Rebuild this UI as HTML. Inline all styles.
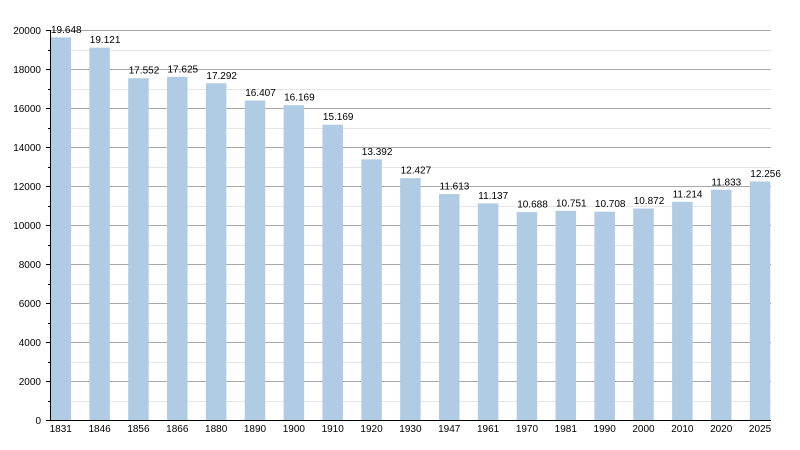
<!DOCTYPE html>
<html><head><meta charset="utf-8"><style>
html,body{margin:0;padding:0;background:#fff;}
svg{display:block;}
text{font-family:"Liberation Sans",Arial,sans-serif;font-size:10px;fill:#000;}
</style></head><body>
<svg width="800" height="450" viewBox="0 0 800 450" xmlns="http://www.w3.org/2000/svg">
<rect width="800" height="450" fill="#fff"/>
<g stroke="#e6e6e6" stroke-width="1">
<line x1="50" x2="771" y1="401.5" y2="401.5"/>
<line x1="50" x2="771" y1="362.5" y2="362.5"/>
<line x1="50" x2="771" y1="323.5" y2="323.5"/>
<line x1="50" x2="771" y1="284.5" y2="284.5"/>
<line x1="50" x2="771" y1="245.5" y2="245.5"/>
<line x1="50" x2="771" y1="206.5" y2="206.5"/>
<line x1="50" x2="771" y1="167.5" y2="167.5"/>
<line x1="50" x2="771" y1="128.5" y2="128.5"/>
<line x1="50" x2="771" y1="89.5" y2="89.5"/>
<line x1="50" x2="771" y1="50.5" y2="50.5"/>
</g>
<g stroke="#a8a8a8" stroke-width="1">
<line x1="50" x2="771" y1="381.5" y2="381.5"/>
<line x1="50" x2="771" y1="342.5" y2="342.5"/>
<line x1="50" x2="771" y1="303.5" y2="303.5"/>
<line x1="50" x2="771" y1="264.5" y2="264.5"/>
<line x1="50" x2="771" y1="225.5" y2="225.5"/>
<line x1="50" x2="771" y1="186.5" y2="186.5"/>
<line x1="50" x2="771" y1="147.5" y2="147.5"/>
<line x1="50" x2="771" y1="108.5" y2="108.5"/>
<line x1="50" x2="771" y1="69.5" y2="69.5"/>
<line x1="50" x2="771" y1="30.5" y2="30.5"/>
</g>
<g fill="#b0cbe4">
<rect x="50.5" y="37.36" width="20.5" height="383.14"/>
<rect x="89.35" y="47.64" width="20.5" height="372.86"/>
<rect x="128.2" y="78.24" width="20.5" height="342.26"/>
<rect x="167.05" y="76.81" width="20.5" height="343.69"/>
<rect x="205.9" y="83.31" width="20.5" height="337.19"/>
<rect x="244.75" y="100.56" width="20.5" height="319.94"/>
<rect x="283.6" y="105.2" width="20.5" height="315.3"/>
<rect x="322.45" y="124.7" width="20.5" height="295.8"/>
<rect x="361.3" y="159.36" width="20.5" height="261.14"/>
<rect x="400.15" y="178.17" width="20.5" height="242.33"/>
<rect x="439" y="194.05" width="20.5" height="226.45"/>
<rect x="477.85" y="203.33" width="20.5" height="217.17"/>
<rect x="516.7" y="212.08" width="20.5" height="208.42"/>
<rect x="555.55" y="210.86" width="20.5" height="209.64"/>
<rect x="594.4" y="211.69" width="20.5" height="208.81"/>
<rect x="633.25" y="208.5" width="20.5" height="212"/>
<rect x="672.1" y="201.83" width="20.5" height="218.67"/>
<rect x="710.95" y="189.76" width="20.5" height="230.74"/>
<rect x="749.8" y="181.51" width="20.5" height="238.99"/>
</g>
<g>
<text x="51" y="32.9">19.648</text>
<text x="89.8" y="43.1">19.121</text>
<text x="128.7" y="73.7">17.552</text>
<text x="167.5" y="72.3">17.625</text>
<text x="206.4" y="78.8">17.292</text>
<text x="245.2" y="96.1">16.407</text>
<text x="284.1" y="100.7">16.169</text>
<text x="322.9" y="120.2">15.169</text>
<text x="361.8" y="154.9">13.392</text>
<text x="400.6" y="173.7">12.427</text>
<text x="439.5" y="189.6">11.613</text>
<text x="478.3" y="198.8">11.137</text>
<text x="517.2" y="207.6">10.688</text>
<text x="556" y="206.4">10.751</text>
<text x="594.9" y="207.2">10.708</text>
<text x="633.7" y="204">10.872</text>
<text x="672.6" y="197.3">11.214</text>
<text x="711.4" y="185.3">11.833</text>
<text x="750.3" y="177">12.256</text>
</g>
<g stroke="#000" stroke-width="1">
<line x1="50.5" x2="50.5" y1="30" y2="421"/>
<line x1="50" x2="771" y1="420.5" y2="420.5"/>
<line x1="46" x2="50" y1="420.5" y2="420.5"/>
<line x1="46" x2="50" y1="381.5" y2="381.5"/>
<line x1="46" x2="50" y1="342.5" y2="342.5"/>
<line x1="46" x2="50" y1="303.5" y2="303.5"/>
<line x1="46" x2="50" y1="264.5" y2="264.5"/>
<line x1="46" x2="50" y1="225.5" y2="225.5"/>
<line x1="46" x2="50" y1="186.5" y2="186.5"/>
<line x1="46" x2="50" y1="147.5" y2="147.5"/>
<line x1="46" x2="50" y1="108.5" y2="108.5"/>
<line x1="46" x2="50" y1="69.5" y2="69.5"/>
<line x1="46" x2="50" y1="30.5" y2="30.5"/>
<line x1="48" x2="50" y1="401.5" y2="401.5"/>
<line x1="48" x2="50" y1="362.5" y2="362.5"/>
<line x1="48" x2="50" y1="323.5" y2="323.5"/>
<line x1="48" x2="50" y1="284.5" y2="284.5"/>
<line x1="48" x2="50" y1="245.5" y2="245.5"/>
<line x1="48" x2="50" y1="206.5" y2="206.5"/>
<line x1="48" x2="50" y1="167.5" y2="167.5"/>
<line x1="48" x2="50" y1="128.5" y2="128.5"/>
<line x1="48" x2="50" y1="89.5" y2="89.5"/>
<line x1="48" x2="50" y1="50.5" y2="50.5"/>
</g>
<g text-anchor="end">
<text x="41" y="424">0</text>
<text x="41" y="385">2000</text>
<text x="41" y="346">4000</text>
<text x="41" y="307">6000</text>
<text x="41" y="268">8000</text>
<text x="41" y="229">10000</text>
<text x="41" y="190">12000</text>
<text x="41" y="151">14000</text>
<text x="41" y="112">16000</text>
<text x="41" y="73">18000</text>
<text x="41" y="34">20000</text>
</g>
<g text-anchor="middle">
<text x="60.75" y="432">1831</text>
<text x="99.6" y="432">1846</text>
<text x="138.45" y="432">1856</text>
<text x="177.3" y="432">1866</text>
<text x="216.15" y="432">1880</text>
<text x="255" y="432">1890</text>
<text x="293.85" y="432">1900</text>
<text x="332.7" y="432">1910</text>
<text x="371.55" y="432">1920</text>
<text x="410.4" y="432">1930</text>
<text x="449.25" y="432">1947</text>
<text x="488.1" y="432">1961</text>
<text x="526.95" y="432">1970</text>
<text x="565.8" y="432">1981</text>
<text x="604.65" y="432">1990</text>
<text x="643.5" y="432">2000</text>
<text x="682.35" y="432">2010</text>
<text x="721.2" y="432">2020</text>
<text x="760.05" y="432">2025</text>
</g>
</svg>
</body></html>
